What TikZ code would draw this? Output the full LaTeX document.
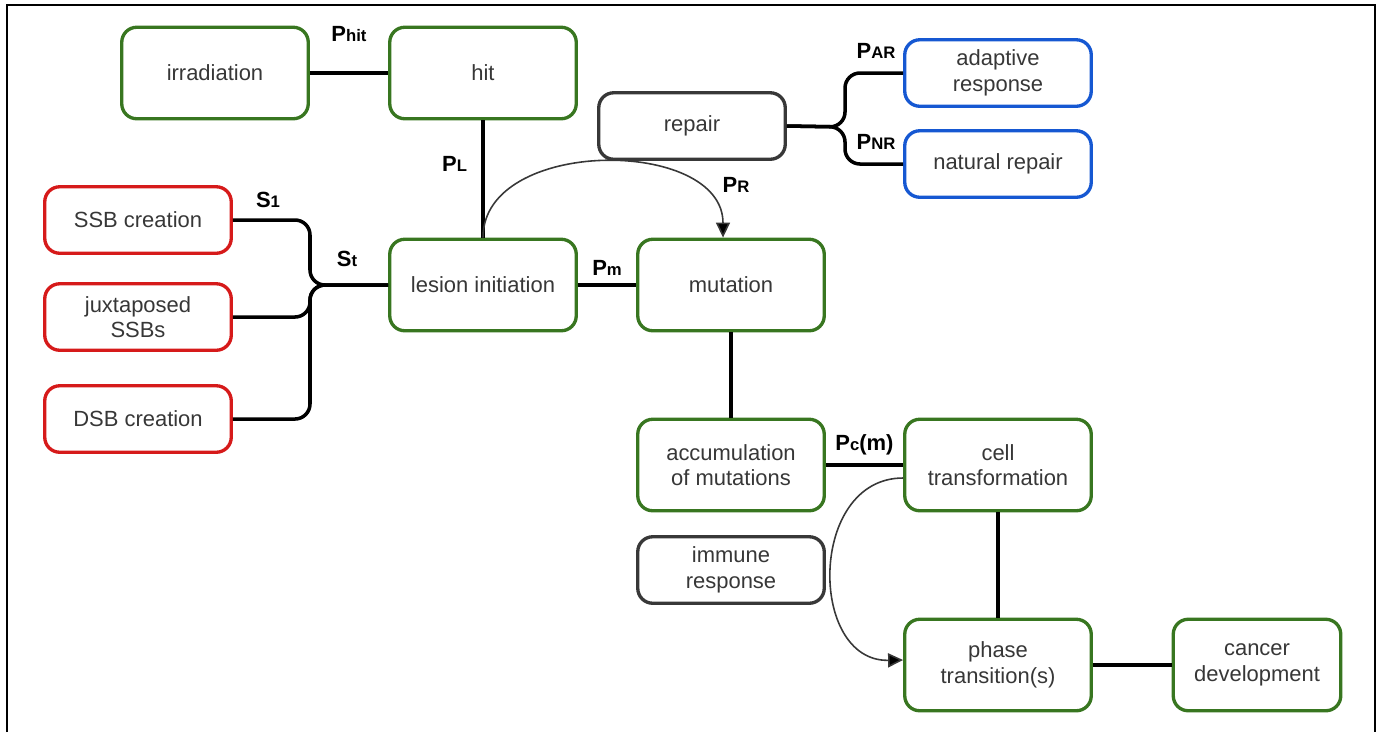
\documentclass[tikz,border=0pt]{standalone}
\usepackage{fontspec}
\setmainfont{Liberation Sans}
\usetikzlibrary{calc,arrows.meta}
\definecolor{boxgreen}{RGB}{56,118,32}
\definecolor{boxred}{RGB}{214,26,26}
\definecolor{boxblue}{RGB}{22,88,210}
\definecolor{boxgray}{RGB}{56,56,56}
\definecolor{txtgray}{RGB}{55,55,55}
\newcommand{\plab}[2]{\textbf{#1}{\fontsize{9.5}{10}\selectfont\bfseries #2}}

\begin{document}
\begin{tikzpicture}[x=0.2mm,y=-0.2mm,
    box/.style={draw=boxgreen,line width=1.9pt,rounded corners=3mm,
      minimum width=37.3mm,minimum height=18.3mm,align=center,
      text=txtgray,font=\fontsize{12.5}{14.5}\selectfont},
    lowbox/.style={box,minimum height=13.3mm},
    redbox/.style={lowbox,draw=boxred},
    bluebox/.style={lowbox,draw=boxblue},
    graybox/.style={lowbox,draw=boxgray},
    link/.style={line width=2pt},
    curvearrow/.style={draw=boxgray,line width=0.9pt,
      -{Triangle[length=3mm,width=2.8mm,fill=black]}},
    lab/.style={font=\fontsize{12.5}{14}\selectfont,inner sep=1pt}]
  \useasboundingbox (0,0) rectangle (1382,732);
  % frame
  \draw[line width=0.5mm] (7,732) -- (7,5) -- (1375,5) -- (1375,732);
  % boxes
  \node[box] (irr) at (215,73) {irradiation};
  \node[box] (hit) at (483,73) {hit};
  \node[graybox] (rep) at (692,126) {repair};
  \node[bluebox] (adr) at (998,73) {adaptive\\response};
  \node[bluebox] (nat) at (998,164) {natural repair};
  \node[redbox] (ssb) at (138,220) {SSB creation};
  \node[redbox] (jux) at (138,317) {juxtaposed\\SSBs};
  \node[redbox] (dsb) at (138,419) {DSB creation};
  \node[box] (les) at (483,285) {lesion initiation};
  \node[box] (mut) at (731,285) {mutation};
  \node[box] (acc) at (731,465) {accumulation\\of mutations};
  \node[box] (cell) at (998,465) {cell\\transformation};
  \node[graybox] (imm) at (731,570) {immune\\response};
  \node[box] (pha) at (998,665) {phase\\transition(s)};
  \node[box,minimum width=33.5mm] (can) at (1257,665) {cancer\\development};
  % junction points
  \coordinate (sj) at (310,285);
  \coordinate (rj) at (845,127);
  % connectors
  \draw[link] (irr) -- node[lab,above=5.6mm] (phit) {\plab{P}{hit}} (hit);
  \draw[link] (hit) -- node[lab,pos=0.37,left=2.5mm] (pl) {\plab{P}{L}} (les);
  \draw[link] (les) -- node[lab,above=1.2mm] (pm) {\plab{P}{m}} (mut);
  \foreach \src in {ssb,jux,dsb}
    \draw[link,rounded corners=3mm] (\src.east) -| (sj) -- (les.west);
  \node[lab] (s1) at (268,200) {\plab{S}{1}};
  \node[lab] (st) at (347,259) {\plab{S}{t}};
  \foreach \dst in {adr,nat}
    \draw[link,rounded corners=3mm] (rep.east) -- (rj) |- (\dst.west);
  \node[lab] (par) at (876,51) {\plab{P}{AR}};
  \node[lab] (pnr) at (876,142) {\plab{P}{NR}};
  \draw[curvearrow] (les.north) .. controls (483,137) and (723,137) .. ($(mut.north)+(-8,0)$);
  \node[lab] (pr) at (736,185) {\plab{P}{R}};
  \draw[link] (mut) -- (acc);
  \draw[link] (acc.east) -- node[lab,above=1.2mm] (pcm) {\plab{P}{c}\textbf{(m)}} (acc.east -| cell.west);
  \draw[curvearrow] ($(cell.west)+(0,13)$) .. controls (808,478) and (808,662) .. ($(pha.west)+(0,-5)$);
  \draw[link] (cell) -- (pha);
  \draw[link] (pha) -- (can);
\end{tikzpicture}
\end{document}
